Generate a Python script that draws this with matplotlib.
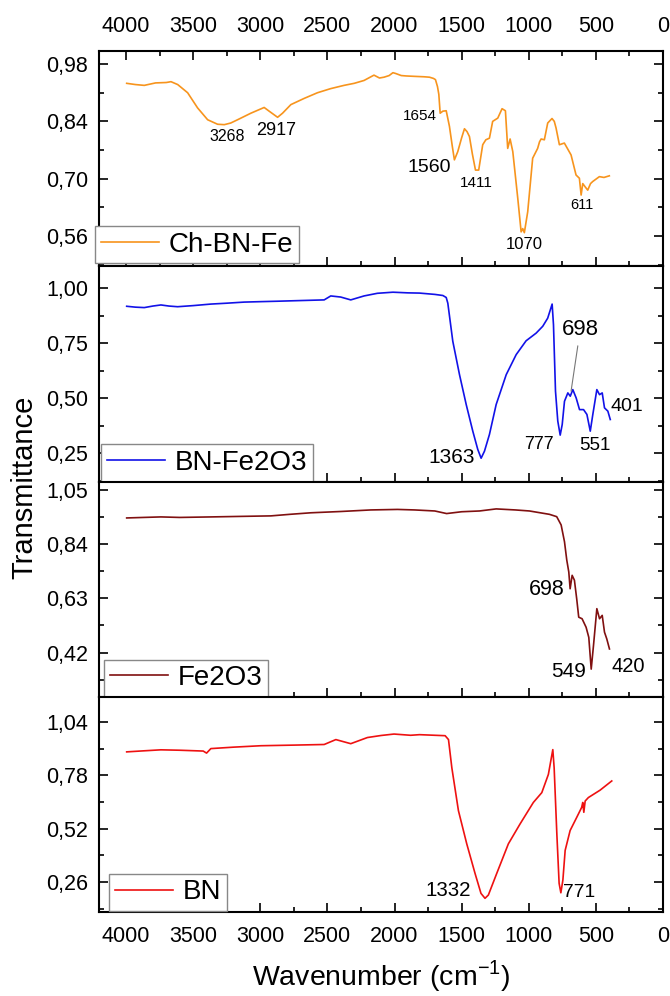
import matplotlib
matplotlib.use("Agg")
import matplotlib.pyplot as plt
from matplotlib.ticker import FixedLocator, MultipleLocator, FuncFormatter

plt.rcParams["font.family"] = ["Liberation Sans", "DejaVu Sans"]
plt.rcParams["mathtext.fontset"] = "custom"
plt.rcParams["mathtext.rm"] = "Liberation Sans"

# ---- data (wavenumber in cm-1, transmittance) ----
CHBNFE_WN = [3995, 3930, 3864, 3780, 3700, 3665, 3615, 3541, 3467, 3392, 3318, 3268,
             3220, 3169, 3070, 2971, 2934, 2871, 2834, 2772, 2674, 2574, 2476, 2376,
             2300, 2227, 2153, 2112, 2078, 2040, 2012, 1991, 1950, 1913, 1850, 1780,
             1740, 1710, 1695, 1680, 1670, 1660, 1640, 1615, 1591, 1570, 1554, 1529,
             1500, 1479, 1460, 1442, 1420, 1397, 1373, 1343, 1320, 1293, 1269, 1231,
             1199, 1174, 1157, 1139, 1119, 1082, 1057, 1045, 1033, 1008, 971, 934,
             920, 908, 884, 859, 827, 810, 797, 772, 735, 685, 648, 623, 610, 598,
             580, 561, 540, 524, 474, 440, 400]
CHBNFE_T = [0.933, 0.930, 0.928, 0.934, 0.935, 0.937, 0.930, 0.910, 0.873, 0.844, 0.833, 0.832,
            0.836, 0.844, 0.860, 0.874, 0.865, 0.850, 0.860, 0.881, 0.896, 0.910, 0.920, 0.928,
            0.933, 0.940, 0.953, 0.946, 0.948, 0.952, 0.959, 0.957, 0.952, 0.951, 0.950, 0.949,
            0.948, 0.945, 0.942, 0.925, 0.906, 0.860, 0.865, 0.866, 0.828, 0.780, 0.746, 0.766,
            0.800, 0.822, 0.815, 0.803, 0.760, 0.721, 0.721, 0.783, 0.795, 0.799, 0.840, 0.848,
            0.871, 0.866, 0.774, 0.797, 0.766, 0.652, 0.570, 0.578, 0.568, 0.619, 0.750, 0.774,
            0.790, 0.797, 0.795, 0.836, 0.847, 0.840, 0.824, 0.783, 0.787, 0.758, 0.709, 0.701,
            0.660, 0.688, 0.680, 0.672, 0.688, 0.693, 0.705, 0.703, 0.707]

BNFE2O3_WN = [3995, 3930, 3864, 3800, 3740, 3680, 3616, 3500, 3368, 3250, 3120, 3000,
              2871, 2700, 2524, 2475, 2401, 2326, 2227, 2128, 2012, 1900, 1814, 1700,
              1640, 1615, 1603, 1566, 1516, 1466, 1417, 1380, 1355, 1330, 1293, 1243,
              1168, 1094, 1020, 945, 896, 859, 826, 816, 801, 784, 766, 751, 734, 709,
              691, 672, 647, 622, 592, 567, 542, 523, 493, 473, 453, 436, 411, 393]
BNFE2O3_T = [0.919, 0.915, 0.913, 0.920, 0.925, 0.920, 0.917, 0.922, 0.929, 0.933, 0.938, 0.940,
             0.942, 0.945, 0.948, 0.966, 0.961, 0.948, 0.966, 0.978, 0.983, 0.980, 0.979, 0.973,
             0.968, 0.959, 0.933, 0.760, 0.608, 0.472, 0.351, 0.268, 0.228, 0.260, 0.336, 0.472,
             0.608, 0.699, 0.762, 0.797, 0.828, 0.865, 0.929, 0.835, 0.533, 0.397, 0.333, 0.381,
             0.487, 0.525, 0.510, 0.540, 0.502, 0.449, 0.449, 0.427, 0.351, 0.427, 0.540, 0.517,
             0.525, 0.457, 0.442, 0.404]

FE2O3_WN = [3995, 3870, 3740, 3600, 3368, 3150, 2921, 2780, 2623, 2400, 2177, 1978,
            1850, 1700, 1612, 1500, 1367, 1243, 1100, 995, 846, 792, 759, 734, 717,
            702, 692, 677, 660, 643, 628, 603, 573, 553, 535, 518, 493, 473, 453,
            436, 419, 399]
FE2O3_T = [0.941, 0.943, 0.945, 0.943, 0.945, 0.947, 0.949, 0.955, 0.961, 0.966, 0.972, 0.974,
           0.972, 0.968, 0.958, 0.965, 0.968, 0.976, 0.972, 0.968, 0.955, 0.946, 0.914, 0.849,
           0.778, 0.732, 0.667, 0.719, 0.700, 0.628, 0.557, 0.551, 0.518, 0.479, 0.356, 0.447,
           0.590, 0.551, 0.564, 0.499, 0.473, 0.434]

BN_WN = [3995, 3870, 3740, 3600, 3425, 3400, 3368, 3200, 2995, 2750, 2524, 2437,
         2326, 2202, 2100, 2004, 1880, 1814, 1623, 1598, 1573, 1524, 1462, 1400,
         1356, 1326, 1301, 1239, 1152, 1065, 966, 903, 854, 821, 811, 791, 774,
         761, 746, 729, 692, 643, 606, 598, 590, 580, 556, 469, 382]
BN_T = [0.895, 0.900, 0.905, 0.903, 0.899, 0.889, 0.911, 0.918, 0.925, 0.928, 0.931, 0.955,
        0.935, 0.965, 0.975, 0.982, 0.976, 0.979, 0.974, 0.955, 0.817, 0.608, 0.446, 0.301,
        0.204, 0.180, 0.196, 0.301, 0.446, 0.543, 0.648, 0.696, 0.785, 0.906, 0.817, 0.495,
        0.253, 0.207, 0.269, 0.414, 0.511, 0.575, 0.624, 0.648, 0.600, 0.655, 0.672, 0.708,
        0.753]

# peak labels: (text, wavenumber, transmittance, font size)
CHBNFE_PEAKS = [("3268", 3243, 0.803, 11.5), ("2917", 2879, 0.818, 13),
                ("1654", 1814, 0.852, 11), ("1560", 1740, 0.727, 14),
                ("1411", 1394, 0.690, 11), ("1070", 1033, 0.539, 12),
                ("611", 602, 0.635, 10.5)]
BNFE2O3_PEAKS = [("1363", 1578, 0.230, 15), ("777", 921, 0.290, 13),
                 ("551", 509, 0.288, 13.5), ("401", 268, 0.463, 14)]
FE2O3_PEAKS = [("698", 867, 0.665, 15.5), ("549", 706, 0.346, 15), ("420", 261, 0.367, 14.5)]
BN_PEAKS = [("1332", 1599, 0.220, 14.8), ("771", 624, 0.207, 13.8)]

PANELS = [
    ("Ch-BN-Fe", CHBNFE_WN, CHBNFE_T, "#f7941d", CHBNFE_PEAKS,
     [0.56, 0.70, 0.84, 0.98], (0.486, 1.012), (-0.007, 0.014)),
    ("BN-Fe2O3", BNFE2O3_WN, BNFE2O3_T, "#1212e8", BNFE2O3_PEAKS,
     [0.25, 0.50, 0.75, 1.00], (0.122, 1.101), (0.004, 0.0)),
    ("Fe2O3", FE2O3_WN, FE2O3_T, "#801010", FE2O3_PEAKS,
     [0.42, 0.63, 0.84, 1.05], (0.249, 1.082), (0.009, 0.0)),
    ("BN", BN_WN, BN_T, "#ee1111", BN_PEAKS,
     [0.26, 0.52, 0.78, 1.04], (0.113, 1.164), (0.018, 0.005)),
]

XTICKS = [4000, 3500, 3000, 2500, 2000, 1500, 1000, 500, 0]


def comma_fmt(v, _pos):
    return f"{v:.2f}".replace(".", ",")


fig, axes = plt.subplots(4, 1, figsize=(6.7, 9.96), dpi=100, sharex=True)
fig.subplots_adjust(left=0.148, right=0.9896, top=0.9488, bottom=0.0843, hspace=0)

for i, (ax, (name, wn, t, color, peaks, yticks, ylim, leg_xy)) in enumerate(zip(axes, PANELS)):
    ax.plot(wn, t, color=color, linewidth=1.2, label=name)
    ax.set_xlim(4200, 0)
    ax.set_ylim(*ylim)

    ax.yaxis.set_major_locator(FixedLocator(yticks))
    step = yticks[1] - yticks[0]
    ax.yaxis.set_minor_locator(FixedLocator([v + step / 2 for v in [yticks[0] - step] + yticks]))
    ax.yaxis.set_major_formatter(FuncFormatter(comma_fmt))
    ax.xaxis.set_major_locator(FixedLocator(XTICKS))
    ax.xaxis.set_minor_locator(MultipleLocator(250))

    ax.tick_params(which="both", direction="in", labelsize=15.5, width=1.2)
    ax.tick_params(which="major", length=6.5)
    ax.tick_params(which="minor", length=3.5)
    ax.tick_params(axis="y", which="both", left=True, right=True, pad=8)
    ax.tick_params(axis="x", which="both", bottom=True, top=(i == 0),
                   labelbottom=(i == 3), labeltop=(i == 0), pad=10)
    for sp in ax.spines.values():
        sp.set_linewidth(1.5)

    for txt, x, y, fs in peaks:
        ax.text(x, y, txt, fontsize=fs, ha="center", va="center")

    leg = ax.legend(loc="lower left", bbox_to_anchor=leg_xy, borderaxespad=0,
                    fontsize=20, fancybox=False, edgecolor="#888888", framealpha=1,
                    borderpad=0.2, handlelength=2.1, handletextpad=0.35)
    leg.get_frame().set_linewidth(1.0)

# leader line for the 698 band of BN-Fe2O3
axes[1].annotate("698", xy=(685, 0.533), xytext=(617, 0.812), fontsize=16,
                 ha="center", va="center",
                 arrowprops=dict(arrowstyle="-", color="#777777", lw=0.8, shrinkA=2, shrinkB=0))

fig.text(24 / 670, 1 - 487 / 996, "Transmittance", rotation=90, fontsize=21,
         ha="center", va="center")
fig.text(381 / 670, 1 - 976 / 996, r"Wavenumber (cm$^{\mathregular{-1}}$)", fontsize=20.5,
         ha="center", va="center")

fig.savefig("out.png", dpi=100)
